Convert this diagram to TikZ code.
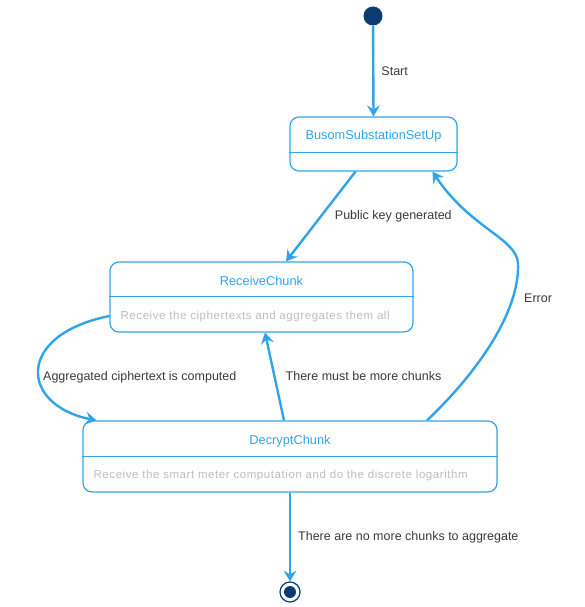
\documentclass[tikz,border=0pt]{standalone}
\usepackage{fontspec}
\setmainfont{Liberation Sans}
\usetikzlibrary{arrows.meta}

\definecolor{flow}{HTML}{31A4E8}
\definecolor{dot}{HTML}{0B3B73}
\definecolor{desc}{HTML}{BDBDBD}
\definecolor{ink}{HTML}{3A3A3A}

\begin{document}
\begin{tikzpicture}[x=1pt, y=-1pt,
	state/.style={draw=flow, line width=1.2pt, rounded corners=9pt, inner sep=0pt},
	title/.style={text=flow, font=\fontsize{12.8}{14}\selectfont},
	note/.style={text=desc, anchor=west, inner sep=0pt, font=\fontsize{11.5}{13}\selectfont\addfontfeature{LetterSpace=5}},
	lbl/.style={text=ink, font=\fontsize{12.5}{14}\selectfont, inner sep=0pt},
	trans/.style={draw=flow, line width=2.4pt, -{Stealth[length=11pt, width=13pt, inset=4pt]}}]
	\useasboundingbox (0,0) rectangle (585,607);

	% Start and end
	\node[circle, fill=dot, minimum size=19pt, inner sep=0pt] (start) at (373,16) {};
	\node[circle, draw=dot, line width=1.2pt, minimum size=20pt, inner sep=0pt] (end) at (290,592) {};
	\node[circle, fill=dot, minimum size=12pt, inner sep=0pt] (enddot) at (end.center) {};

	% BusomSubstationSetUp
	\node[state, minimum width=167pt, minimum height=54pt] (busom) at (373.5,144) {};
	\node[title] (busomtitle) at ([yshift=-20pt]busom.north) {BusomSubstationSetUp};
	\draw[draw=flow, line width=1.2pt] ([yshift=-36pt]busom.north west) -- ([yshift=-36pt]busom.north east);

	% ReceiveChunk
	\node[state, minimum width=303pt, minimum height=70pt] (receive) at (261.5,297) {};
	\node[title] (receivetitle) at ([yshift=-20pt]receive.north) {ReceiveChunk};
	\draw[draw=flow, line width=1.2pt] ([yshift=-35pt]receive.north west) -- ([yshift=-35pt]receive.north east);
	\node[note] (receivenote) at ([xshift=11pt, yshift=-55pt]receive.north west) {Receive the ciphertexts and aggregates them all};

	% DecryptChunk
	\node[state, minimum width=414pt, minimum height=71pt] (decrypt) at (290,456.5) {};
	\node[title] (decrypttitle) at ([yshift=-21pt]decrypt.north) {DecryptChunk};
	\draw[draw=flow, line width=1.2pt] ([yshift=-36pt]decrypt.north west) -- ([yshift=-36pt]decrypt.north east);
	\node[note] (decryptnote) at ([xshift=11pt, yshift=-55pt]decrypt.north west) {Receive the smart meter computation and do the discrete logarithm};

	% Transitions
	\draw[trans] (start) -- (busom.north)
		node[lbl, midway, right=7pt] {Start};
	\draw[trans] ([xshift=-18pt]busom.south) -- ([xshift=24.5pt]receive.north)
		node[lbl, midway, right=13pt] {Public key generated};
	\draw[trans] ([yshift=-19pt]receive.west) .. controls (15,335) and (20,405) .. ([xshift=14pt]decrypt.north west);
	\node[lbl, anchor=west] (aggr) at (43,377) {Aggregated ciphertext is computed};
	\draw[trans] ([xshift=-6pt]decrypt.north) -- ([xshift=3.5pt]receive.south)
		node[lbl, midway, right=10pt] {There must be more chunks};
	\draw[trans] ([xshift=137pt]decrypt.north) .. controls (480,370) and (520,310) .. (518,263)
		.. controls (516,238) and (470,228) .. ([xshift=59pt]busom.south);
	\node[lbl, anchor=west] (err) at (524,298) {Error};
	\draw[trans] (decrypt.south) -- (end.north)
		node[lbl, midway, right=7pt] {There are no more chunks to aggregate};
\end{tikzpicture}
\end{document}
